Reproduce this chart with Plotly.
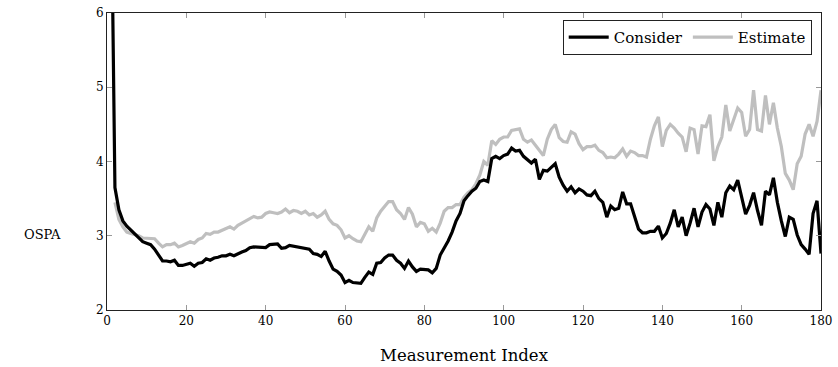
import plotly.graph_objects as go

index = list(range(1, 181))

consider = [
    8.0, 3.65, 3.35, 3.2, 3.13, 3.08, 3.03, 2.97, 2.92, 2.9,
    2.88, 2.82, 2.73, 2.66, 2.66, 2.65, 2.67, 2.6, 2.6, 2.62,
    2.63, 2.59, 2.63, 2.64, 2.69, 2.67, 2.7, 2.71, 2.73, 2.73,
    2.75, 2.73, 2.76, 2.78, 2.8, 2.84, 2.85, 2.85, 2.85, 2.84,
    2.88, 2.89, 2.89, 2.83, 2.84, 2.87, 2.86, 2.85, 2.84, 2.82,
    2.82, 2.76, 2.75, 2.72, 2.79, 2.66, 2.55, 2.52, 2.47, 2.37,
    2.4, 2.37, 2.37, 2.36, 2.44, 2.51, 2.48, 2.63, 2.64, 2.7,
    2.74, 2.74, 2.67, 2.63, 2.56, 2.66, 2.58, 2.52, 2.55, 2.55,
    2.54, 2.5, 2.56, 2.74, 2.83, 2.93, 3.05, 3.2, 3.3, 3.47,
    3.54, 3.6, 3.64, 3.73, 3.75, 3.73, 4.04, 4.07, 4.04, 4.08,
    4.1, 4.18, 4.14, 4.15, 4.07, 4.02, 3.98, 4.03, 3.76, 3.88,
    3.87, 3.92, 3.97, 3.79, 3.68, 3.6, 3.66, 3.58, 3.63, 3.6,
    3.55, 3.54, 3.6, 3.5, 3.45, 3.25, 3.4, 3.35, 3.37, 3.59,
    3.43, 3.43, 3.27, 3.09, 3.04, 3.04, 3.06, 3.06, 3.13, 2.97,
    3.03, 3.17, 3.35, 3.12, 3.25, 3.0, 3.17, 3.37, 3.12, 3.32,
    3.42, 3.36, 3.14, 3.45, 3.25, 3.58, 3.67, 3.62, 3.75, 3.54,
    3.29, 3.41, 3.58, 3.34, 3.14, 3.6, 3.55, 3.78, 3.45, 3.2,
    2.99, 3.25, 3.22, 3.01, 2.88, 2.82, 2.75, 3.3, 3.47, 2.76,
]

estimate = [
    None, 3.45, 3.22, 3.12, 3.05, 3.03, 3.02, 3.0, 2.97, 2.97,
    2.97, 2.96, 2.9, 2.85, 2.88, 2.88, 2.9, 2.85, 2.87, 2.9,
    2.92, 2.9, 2.95, 2.97, 3.03, 3.02, 3.05, 3.05, 3.07, 3.1,
    3.12, 3.09, 3.14, 3.17, 3.2, 3.24, 3.26, 3.24, 3.25, 3.3,
    3.32, 3.31, 3.3, 3.32, 3.36, 3.31, 3.34, 3.33, 3.3, 3.33,
    3.28, 3.3, 3.25, 3.28, 3.33, 3.22, 3.16, 3.14, 3.08, 2.97,
    3.0, 2.96, 2.93, 2.92, 3.02, 3.12, 3.06, 3.24, 3.33, 3.4,
    3.46, 3.46, 3.35, 3.3, 3.22, 3.38, 3.29, 3.12, 3.18, 3.16,
    3.06, 3.1, 3.05, 3.17, 3.33, 3.38, 3.38, 3.42, 3.42, 3.52,
    3.58, 3.62, 3.7, 3.82, 4.0, 3.95, 4.28, 4.23, 4.3, 4.33,
    4.33, 4.42, 4.43, 4.44, 4.3, 4.26, 4.29, 4.22, 4.14, 4.08,
    4.3, 4.43, 4.5, 4.32, 4.27, 4.26, 4.4, 4.37, 4.24, 4.16,
    4.2, 4.2, 4.22, 4.15, 4.12, 4.05, 4.06, 4.05, 4.1, 4.17,
    4.07, 4.14, 4.12, 4.08, 4.08, 4.06, 4.3, 4.48, 4.6, 4.2,
    4.42, 4.5, 4.45, 4.38, 4.33, 4.13, 4.45, 4.43, 4.1, 4.48,
    4.47, 4.63, 4.01, 4.2, 4.33, 4.76, 4.41, 4.55, 4.72, 4.66,
    4.34, 4.43, 4.96, 4.43, 4.41, 4.89, 4.5, 4.79, 4.45, 4.2,
    3.84, 3.75, 3.62, 3.97, 4.07, 4.37, 4.5, 4.34, 4.54, 4.96,
]

x_ticks = [0, 20, 40, 60, 80, 100, 120, 140, 160, 180]
y_ticks = [2, 3, 4, 5, 6]

FONT = "DejaVu Serif, Liberation Serif, serif"

fig = go.Figure()
fig.add_trace(go.Scatter(x=index, y=estimate, mode="lines", name="Estimate",
                         legendrank=2, line=dict(color="#bfbfbf", width=3.2)))
fig.add_trace(go.Scatter(x=index, y=consider, mode="lines", name="Consider",
                         legendrank=1, line=dict(color="black", width=3.2)))

axis_common = dict(
    showgrid=False, zeroline=False, showline=True, linecolor="#222222", linewidth=1,
    mirror="ticks", ticks="inside", ticklen=5, tickcolor="#999999", tickwidth=1,
    ticklabeloverflow="allow",
    tickfont=dict(family=FONT, size=12, color="black"),
)

fig.update_layout(
    width=838, height=367,
    margin=dict(l=107, r=15, t=6, b=57),
    paper_bgcolor="white", plot_bgcolor="white",
    font=dict(family=FONT, color="black"),
    xaxis=dict(range=[0, 180], tickvals=x_ticks, **axis_common),
    yaxis=dict(range=[2, 6], tickvals=y_ticks, **axis_common),
    legend=dict(orientation="h", x=0.987, y=0.977, xanchor="right", yanchor="top",
                bordercolor="#222222", borderwidth=1, bgcolor="white",
                font=dict(family=FONT, size=15), itemwidth=40,
                tracegroupgap=0),
    showlegend=True,
    annotations=[
        dict(text="Measurement Index", xref="paper", yref="paper", x=0.5, y=-0.115,
             xanchor="center", yanchor="top", showarrow=False,
             font=dict(family=FONT, size=16.5)),
        dict(text="OSPA", xref="paper", yref="paper", x=-0.091, y=0.253,
             xanchor="center", yanchor="middle", showarrow=False,
             font=dict(family=FONT, size=13)),
    ],
)

fig.write_html("out.html")
